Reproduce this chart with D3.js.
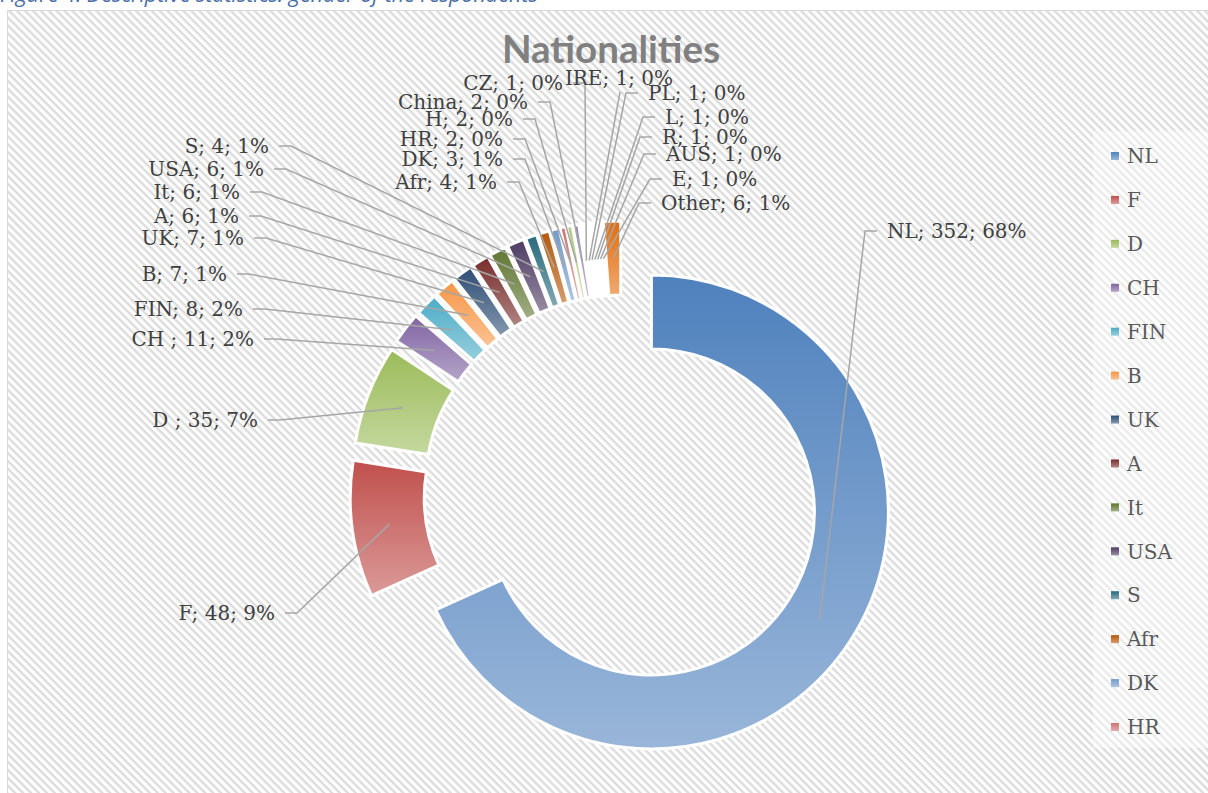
<!DOCTYPE html>
<html>
<head>
<meta charset="utf-8">
<script src="https://cdn.jsdelivr.net/npm/d3@7"></script>
<style>
    html, body { margin: 0; padding: 0; background: #fff; }
    svg { display: block; }
    .label { font-family: "DejaVu Serif", serif; font-size: 20px; fill: #404040; }
    .legend-text { font-family: "DejaVu Serif", serif; font-size: 20px; fill: #595959; }
    .leader { fill: none; stroke: #a6a6a6; stroke-width: 1.5; }
</style>
</head>
<body>
<svg id="chart" width="1208" height="793"></svg>
<script>
// Chart data
const categories = ['NL', 'F', 'D ', 'CH ', 'FIN', 'B', 'UK', 'A', 'It', 'USA', 'S', 'Afr',
    'DK', 'HR', 'H', 'China', 'CZ', 'IRE', 'PL', 'L', 'R', 'AUS', 'E', 'Other'];
const counts = [352, 48, 35, 11, 8, 7, 7, 6, 6, 6, 4, 4, 3, 2, 2, 2, 1, 1, 1, 1, 1, 1, 1, 6];
// Excel only had room for the first 14 legend entries
const legendCount = 14;

const titleText = 'Nationalities';
const captionText = 'Figure 4: Descriptive statistics: gender of the respondents';

(function() {
    'use strict';

    // Office 2010 palette, repeated as darker / lighter variants
    const palette = ['#4f81bd', '#c0504d', '#9bbb59', '#8064a2', '#4bacc6', '#f79646',
        '#2c4d75', '#772c2a', '#5f7530', '#4d3b62', '#276a7c', '#b65708',
        '#729aca', '#cd7371', '#afc97a', '#9983b5', '#6fbdd1', '#f9ab6b',
        '#3a6599', '#9a3d3b', '#7a9a40', '#664f84', '#3690a6', '#e46c0a'];

    // Hand placed data labels (as arranged in the original workbook)
    // [x, y, side] - side is where the text sits relative to its anchor
    const labelLayout = {
        'S': [269, 146, 'end'], 'USA': [264, 169, 'end'], 'It': [240, 192, 'end'],
        'A': [239, 216, 'end'], 'UK': [244, 238, 'end'], 'B': [227, 274, 'end'],
        'FIN': [243, 309, 'end'], 'CH ': [254, 339, 'end'], 'D ': [258, 420, 'end'],
        'F': [275, 613, 'end'], 'Afr': [497, 182, 'end'], 'DK': [503, 159, 'end'],
        'HR': [503, 139, 'end'], 'H': [513, 119, 'end'], 'China': [528, 102, 'end'],
        'CZ': [563, 83, 'end'], 'IRE': [619, 78, 'middle'], 'PL': [648, 93, 'start'],
        'L': [665, 117, 'start'], 'R': [662, 137, 'start'], 'AUS': [666, 154, 'start'],
        'E': [672, 179, 'start'], 'Other': [661, 203, 'start'], 'NL': [887, 231, 'start']
    };

    const cx = 622, cy = 493;
    const outerR = 237, innerR = 163;
    const explode = 35;

    const svg = d3.select('#chart');
    const defs = svg.append('defs');

    const total = d3.sum(counts);
    const data = categories.map((c, i) => ({ name: c, value: counts[i], color: palette[i], idx: i }));

    function setupBackground() {
        const pat = defs.append('pattern')
            .attr('id', 'stripes')
            .attr('patternUnits', 'userSpaceOnUse')
            .attr('width', 5.6)
            .attr('height', 5.6)
            .attr('patternTransform', 'rotate(45)');
        pat.append('rect').attr('width', 5.6).attr('height', 5.6).attr('fill', '#ffffff');
        pat.append('rect').attr('width', 5.6).attr('height', 2.4).attr('fill', '#dcdcdc');

        // caption of the document figure, cut off by the screenshot
        svg.append('text')
            .attr('x', 0)
            .attr('y', 2)
            .attr('font-family', '"Open Sans", sans-serif')
            .attr('font-style', 'italic')
            .attr('font-size', 21.5)
            .attr('fill', '#4a6ea8')
            .text(captionText);

        svg.append('rect')
            .attr('x', 7.5)
            .attr('y', 10.5)
            .attr('width', 1220)
            .attr('height', 800)
            .attr('fill', 'url(#stripes)')
            .attr('stroke', '#d9d9d9')
            .attr('stroke-width', 1);

        svg.append('text')
            .attr('x', 611)
            .attr('y', 63)
            .attr('text-anchor', 'middle')
            .attr('font-family', 'Lato, "Liberation Sans", sans-serif')
            .attr('font-weight', 'bold')
            .attr('font-size', 38.5)
            .attr('fill', '#808080')
            .text(titleText);
    }

    function setupGradients() {
        data.forEach(d => {
            const grad = defs.append('linearGradient')
                .attr('id', `grad-${d.idx}`)
                .attr('x1', 0).attr('y1', 0)
                .attr('x2', 0).attr('y2', 1);
            grad.append('stop').attr('offset', '0%').attr('stop-color', d.color);
            grad.append('stop').attr('offset', '100%')
                .attr('stop-color', d3.interpolateRgb(d.color, '#ffffff')(0.42));
        });
    }

    const pie = d3.pie().sort(null).value(d => d.value);
    const arc = d3.arc().innerRadius(innerR).outerRadius(outerR);

    function offsetOf(a) {
        const mid = (a.startAngle + a.endAngle) / 2;
        return [explode * Math.sin(mid), -explode * Math.cos(mid)];
    }

    function renderSlices(arcs) {
        const g = svg.append('g')
            .attr('class', 'slices')
            .attr('transform', `translate(${cx}, ${cy})`);

        g.selectAll('path')
            .data(arcs)
            .join('path')
            .attr('transform', a => `translate(${offsetOf(a)[0]}, ${offsetOf(a)[1]})`)
            .attr('d', arc)
            .attr('fill', a => `url(#grad-${a.data.idx})`)
            .attr('stroke', '#ffffff')
            .attr('stroke-width', 3)
            .attr('stroke-linejoin', 'miter');
    }

    function renderLabels(arcs) {
        const lineG = svg.append('g').attr('class', 'leaders');
        const textG = svg.append('g').attr('class', 'labels');

        arcs.forEach(a => {
            const [lx, ly, side] = labelLayout[a.data.name];
            const off = offsetOf(a);
            const c = arc.centroid(a);
            const target = [cx + off[0] + c[0], cy + off[1] + c[1]];

            let pts;
            if (side === 'end') {
                pts = [[lx + 10, ly], [lx + 22, ly], target];
            } else if (side === 'start') {
                pts = [[lx - 10, ly], [lx - 22, ly], target];
            } else {
                pts = [[lx + 1, ly + 14], target];
            }

            lineG.append('path')
                .attr('class', 'leader')
                .attr('d', d3.line()(pts));

            const pct = Math.round(a.data.value / total * 100);
            textG.append('text')
                .attr('class', 'label')
                .attr('x', lx)
                .attr('y', ly)
                .attr('dy', '0.36em')
                .attr('text-anchor', side)
                .text(`${a.data.name}; ${a.data.value}; ${pct}%`);
        });
    }

    function renderLegend() {
        const items = data.slice(0, legendCount);
        const y = d3.scalePoint()
            .domain(items.map(d => d.name))
            .range([156, 727]);

        const lg = svg.append('g').attr('class', 'legend');

        lg.append('rect')
            .attr('x', 1093)
            .attr('y', 131)
            .attr('width', 130)
            .attr('height', 617)
            .attr('fill', '#ffffff')
            .attr('fill-opacity', 0.4);

        const rows = lg.selectAll('g.item')
            .data(items)
            .join('g')
            .attr('class', 'item')
            .attr('transform', d => `translate(1111, ${y(d.name)})`);

        rows.append('rect')
            .attr('x', 0)
            .attr('y', -4)
            .attr('width', 8)
            .attr('height', 8)
            .attr('fill', d => `url(#grad-${d.idx})`);

        rows.append('text')
            .attr('class', 'legend-text')
            .attr('x', 16)
            .attr('y', 0)
            .attr('dy', '0.36em')
            .text(d => d.name.trim());
    }

    function render() {
        setupBackground();
        setupGradients();
        const arcs = pie(data);
        renderSlices(arcs);
        renderLabels(arcs);
        renderLegend();
    }

    render();
})();
</script>
</body>
</html>
